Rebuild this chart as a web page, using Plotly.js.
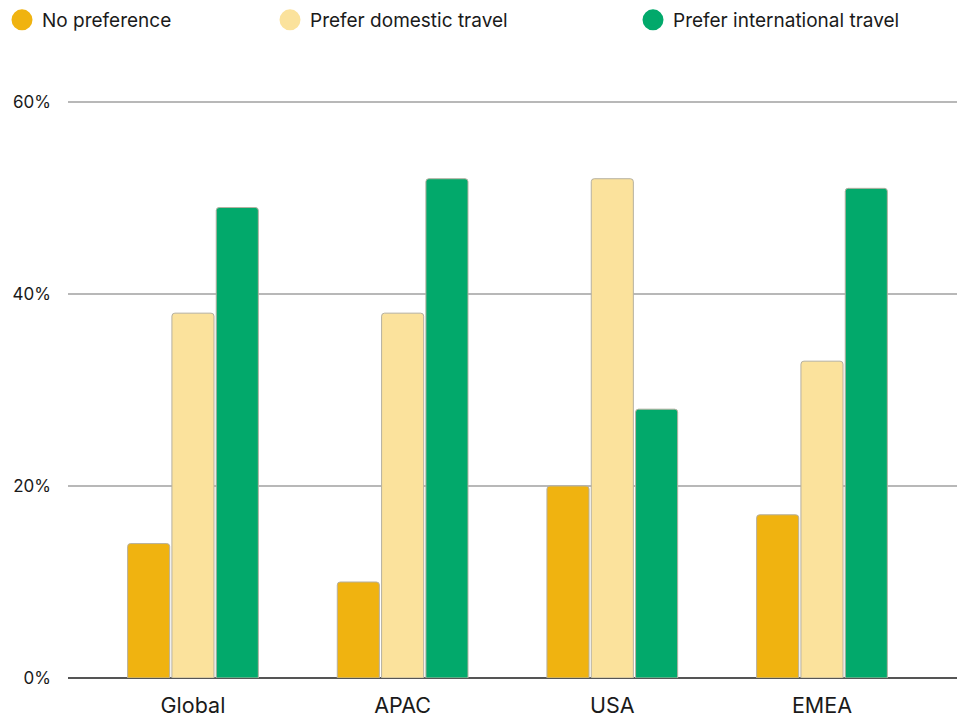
<!DOCTYPE html>
<html>
<head>
<meta charset="utf-8">
<script src="https://cdn.plot.ly/plotly-3.0.1.min.js"></script>
<style>html,body{margin:0;padding:0;background:#fff;}#chart{width:957px;height:717px;}</style>
</head>
<body>
<div id="chart"></div>
<script>
const categories = ["Global", "APAC", "USA", "EMEA"];
const seriesNames = ["No preference", "Prefer domestic travel", "Prefer international travel"];
const noPreference = [14, 10, 20, 17];
const preferDomestic = [38, 38, 52, 33];
const preferInternational = [49, 52, 28, 51];
const yTickValues = [0, 20, 40, 60];
const yTickLabels = ["0%", "20%", "40%", "60%"];

const colors = ["#F0B310", "#FBE29C", "#02A96B"];
const values = [noPreference, preferDomestic, preferInternational];
const legendIds = ["legend", "legend2", "legend3"];
const FONT = "Inter, 'Open Sans', sans-serif";

const traces = [];
values.forEach((v, i) => {
  traces.push({
    type: "bar",
    x: categories,
    y: v,
    name: seriesNames[i],
    showlegend: false,
    marker: { color: colors[i], line: { color: "#b5b0a0", width: 1 }, cornerradius: 3 },
    hoverinfo: "x+y+name"
  });
});
values.forEach((v, i) => {
  traces.push({
    type: "scatter",
    mode: "markers",
    x: [null],
    y: [null],
    name: seriesNames[i],
    legend: legendIds[i],
    marker: { color: colors[i], size: 16, symbol: "circle", line: { color: colors[i], width: 5 } },
    hoverinfo: "skip"
  });
});

function legendAt(xpx) {
  return {
    x: (xpx - 68) / 889,
    xanchor: "left",
    y: (678 - 20) / 578,
    yanchor: "middle",
    orientation: "h",
    bgcolor: "rgba(0,0,0,0)",
    font: { family: FONT, size: 19, color: "#1a1a1a" },
    itemwidth: 30
  };
}

const layout = {
  width: 957,
  height: 717,
  margin: { l: 68, r: 0, t: 100, b: 39 },
  paper_bgcolor: "#ffffff",
  plot_bgcolor: "#ffffff",
  font: { family: FONT, size: 17, color: "#1a1a1a" },
  barmode: "group",
  bargap: 0.366,
  bargroupgap: 0.05,
  xaxis: {
    range: [-0.596, 3.644],
    showgrid: false,
    zeroline: false,
    showline: false,
    ticks: "",
    ticklabelstandoff: 12,
    tickfont: { family: FONT, size: 21.5, color: "#1a1a1a" },
    fixedrange: true
  },
  yaxis: {
    range: [0, 60.2],
    tickvals: yTickValues,
    ticktext: yTickLabels,
    showgrid: true,
    gridcolor: "#b8b8b8",
    gridwidth: 2,
    zeroline: true,
    zerolinecolor: "#555555",
    zerolinewidth: 2,
    showline: false,
    ticks: "",
    ticklabelstandoff: 16,
    tickfont: { family: FONT, size: 17, color: "#1a1a1a" },
    fixedrange: true
  },
  legend: legendAt(2),
  legend2: legendAt(270),
  legend3: legendAt(633),
  showlegend: true
};

Plotly.newPlot("chart", traces, layout, { displayModeBar: false, staticPlot: true });
</script>
</body>
</html>
